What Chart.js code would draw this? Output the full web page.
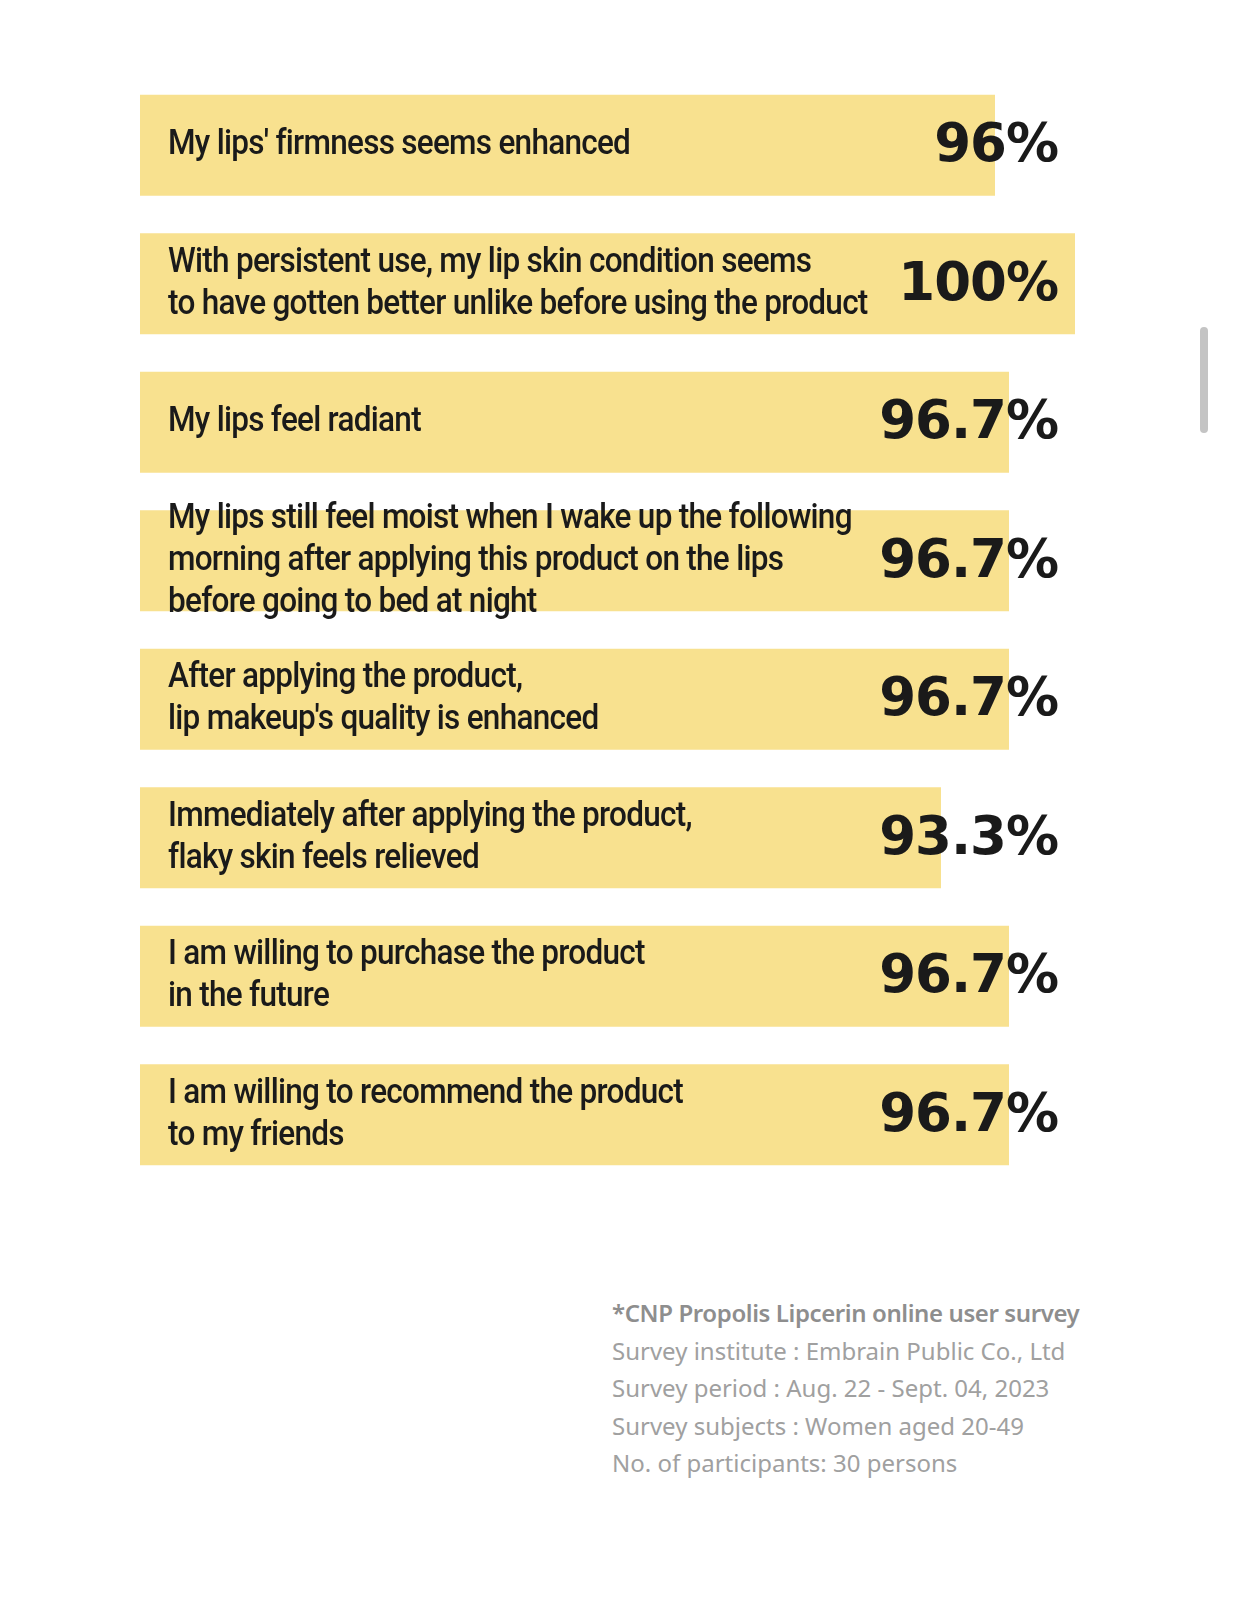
<!DOCTYPE html>
<html>
<head>
<meta charset="utf-8">
<script src="https://cdn.jsdelivr.net/npm/chart.js@4"></script>
<style>
  body { margin: 0; background: #fff; width: 1242px; height: 1600px; position: relative; overflow: hidden; }
  #grafico { position: absolute; left: 0; top: 0; }
  .nota { position: absolute; left: 612px; top: 1294px; font-family: "Noto Sans", sans-serif; font-size: 24px; line-height: 37.5px; color: #a0a0a0; letter-spacing: 0px; }
  .nota b { font-weight: 600; color: #8e8e8e; letter-spacing: -0.4px; }
  .barrita { position: absolute; left: 1200px; top: 327px; width: 8px; height: 106px; border-radius: 4px; background: #c4c4c4; }
</style>
</head>
<body>
<canvas id="grafico" width="1242" height="1200"></canvas>
<div class="barrita"></div>
<div class="nota">
  <b>*CNP Propolis Lipcerin online user survey</b><br>
  Survey institute : Embrain Public Co., Ltd<br>
  Survey period : Aug. 22 - Sept. 04, 2023<br>
  Survey subjects : Women aged 20-49<br>
  No. of participants: 30 persons
</div>
<script>
// Datos de la encuesta
const preguntas = [
    ["My lips' firmness seems enhanced"],
    ["With persistent use, my lip skin condition seems", "to have gotten better unlike before using the product"],
    ["My lips feel radiant"],
    ["My lips still feel moist when I wake up the following", "morning after applying this product on the lips", "before going to bed at night"],
    ["After applying the product,", "lip makeup's quality is enhanced"],
    ["Immediately after applying the product,", "flaky skin feels relieved"],
    ["I am willing to purchase the product", "in the future"],
    ["I am willing to recommend the product", "to my friends"]
];
const porcentajes = [96, 100, 96.7, 96.7, 96.7, 93.3, 96.7, 96.7];
const etiquetasValor = ["96%", "100%", "96.7%", "96.7%", "96.7%", "93.3%", "96.7%", "96.7%"];

// Textos dentro de las barras
const textosBarras = {
    id: 'textosBarras',
    afterDatasetsDraw(chart) {
        const ctx = chart.ctx;
        const barras = chart.getDatasetMeta(0).data;
        ctx.save();
        ctx.fillStyle = '#1a1a1a';
        barras.forEach((barra, i) => {
            const lineas = chart.data.labels[i];
            const alto = 42;
            const y0 = barra.y - (lineas.length - 1) * alto / 2;
            ctx.font = '500 35px Roboto';
            ctx.textAlign = 'left';
            ctx.textBaseline = 'middle';
            lineas.forEach((linea, j) => {
                ctx.save();
                ctx.translate(168, y0 + j * alto);
                ctx.scale(0.9, 1);
                ctx.letterSpacing = '-0.8px';
                ctx.fillText(linea, 0, 0);
                ctx.restore();
            });
            ctx.font = 'bold 53px "DejaVu Sans"';
            ctx.textAlign = 'right';
            ctx.letterSpacing = '-1px';
            ctx.fillText(etiquetasValor[i], 1058, barra.y + 2);
        });
        ctx.restore();
    }
};

new Chart(document.getElementById("grafico"), {
    type: "bar",
    data: {
        labels: preguntas,
        datasets: [{
            data: porcentajes,
            backgroundColor: "#f8e18f",
            categoryPercentage: 1,
            barPercentage: 0.73
        }]
    },
    options: {
        responsive: false,
        animation: false,
        indexAxis: 'y',
        layout: { padding: { left: 140, right: 167, top: 76, bottom: 16 } },
        plugins: { legend: { display: false }, tooltip: { enabled: false } },
        scales: {
            x: { display: false, min: 53.25, max: 100 },
            y: { display: false }
        }
    },
    plugins: [textosBarras]
});
</script>
</body>
</html>
